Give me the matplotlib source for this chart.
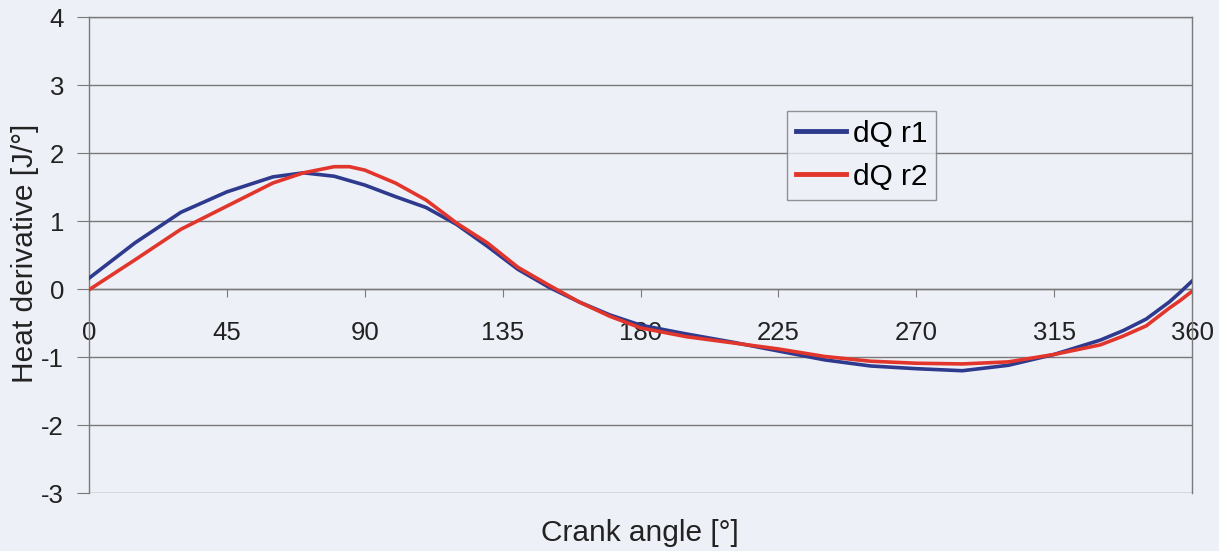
import matplotlib.pyplot as plt

plt.rcParams['font.family'] = ['Liberation Sans', 'DejaVu Sans']
plt.rcParams['axes.unicode_minus'] = False

# crank angle [deg] and heat derivative [J/deg]
angle_r1 = [0, 15, 30, 45, 60, 70, 80, 90, 100, 110, 120, 130, 140, 150, 160, 170,
            180, 195, 210, 225, 240, 255, 270, 285, 300, 315, 330, 337.5, 345, 352.5,
            356, 360]
dq_r1 = [0.16, 0.68, 1.13, 1.43, 1.65, 1.71, 1.66, 1.53, 1.36, 1.20, 0.95, 0.63, 0.29,
         0.03, -0.19, -0.38, -0.53, -0.66, -0.78, -0.91, -1.04, -1.13, -1.17, -1.20,
         -1.12, -0.96, -0.75, -0.61, -0.44, -0.19, -0.05, 0.12]

angle_r2 = [0, 15, 30, 45, 60, 70, 80, 85, 90, 100, 110, 120, 130, 140, 150, 160, 170,
            180, 195, 210, 225, 240, 255, 270, 285, 300, 315, 330, 337.5, 345, 352.5,
            356, 360]
dq_r2 = [-0.01, 0.43, 0.88, 1.22, 1.56, 1.71, 1.80, 1.80, 1.75, 1.56, 1.31, 0.97, 0.68,
         0.32, 0.06, -0.19, -0.40, -0.57, -0.70, -0.79, -0.88, -0.99, -1.06, -1.09,
         -1.10, -1.07, -0.96, -0.82, -0.69, -0.54, -0.28, -0.17, -0.03]

xticks = [0, 45, 90, 135, 180, 225, 270, 315, 360]
yticks = [-3, -2, -1, 0, 1, 2, 3, 4]

bg = '#edf0f7'
grid_c = '#7a7a7a'
txt_c = '#222222'

fig = plt.figure(figsize=(12.19, 5.51), dpi=100, facecolor=bg)
ax = fig.add_axes([0.073, 0.105, 0.905, 0.864], facecolor=bg)

ax.plot(angle_r1, dq_r1, color='#2e3a8e', lw=2.6, label='dQ r1', zorder=3)
ax.plot(angle_r2, dq_r2, color='#e2362c', lw=2.6, label='dQ r2', zorder=3)

ax.set_xlim(0, 360)
ax.set_ylim(-3, 4)
ax.set_xticks(xticks)
ax.set_yticks(yticks)
ax.yaxis.grid(True, color=grid_c, lw=1)
ax.set_axisbelow(True)

for s in ['left', 'right', 'top', 'bottom']:
    ax.spines[s].set_color(grid_c)
    ax.spines[s].set_linewidth(1)
ax.spines['bottom'].set_position(('data', 0))

ax.tick_params(axis='x', direction='out', length=6, color=grid_c, pad=17,
               labelsize=18.5, labelcolor=txt_c)
ax.tick_params(axis='y', direction='out', length=9, color=grid_c, pad=9,
               labelsize=18.5, labelcolor=txt_c)

fig.text(25 / 1219, 1 - 253 / 551, 'Heat derivative [J/°]', rotation=90,
         ha='center', va='center', fontsize=21.5, color=txt_c)
fig.text(640 / 1219, 1 - 533 / 551, 'Crank angle [°]', ha='center', va='center',
         fontsize=21.5, color=txt_c)

leg = ax.legend(loc='upper left', bbox_to_anchor=(0.633, 0.803), fontsize=21.5,
                frameon=True, fancybox=False, handlelength=1.65, handletextpad=0.25,
                borderpad=0.3, labelspacing=0.5, borderaxespad=0)
leg.get_frame().set_edgecolor(grid_c)
leg.get_frame().set_facecolor(bg)
leg.get_frame().set_linewidth(1)
for line in leg.get_lines():
    line.set_linewidth(3.5)

fig.savefig('out.png', dpi=100, facecolor=bg)
